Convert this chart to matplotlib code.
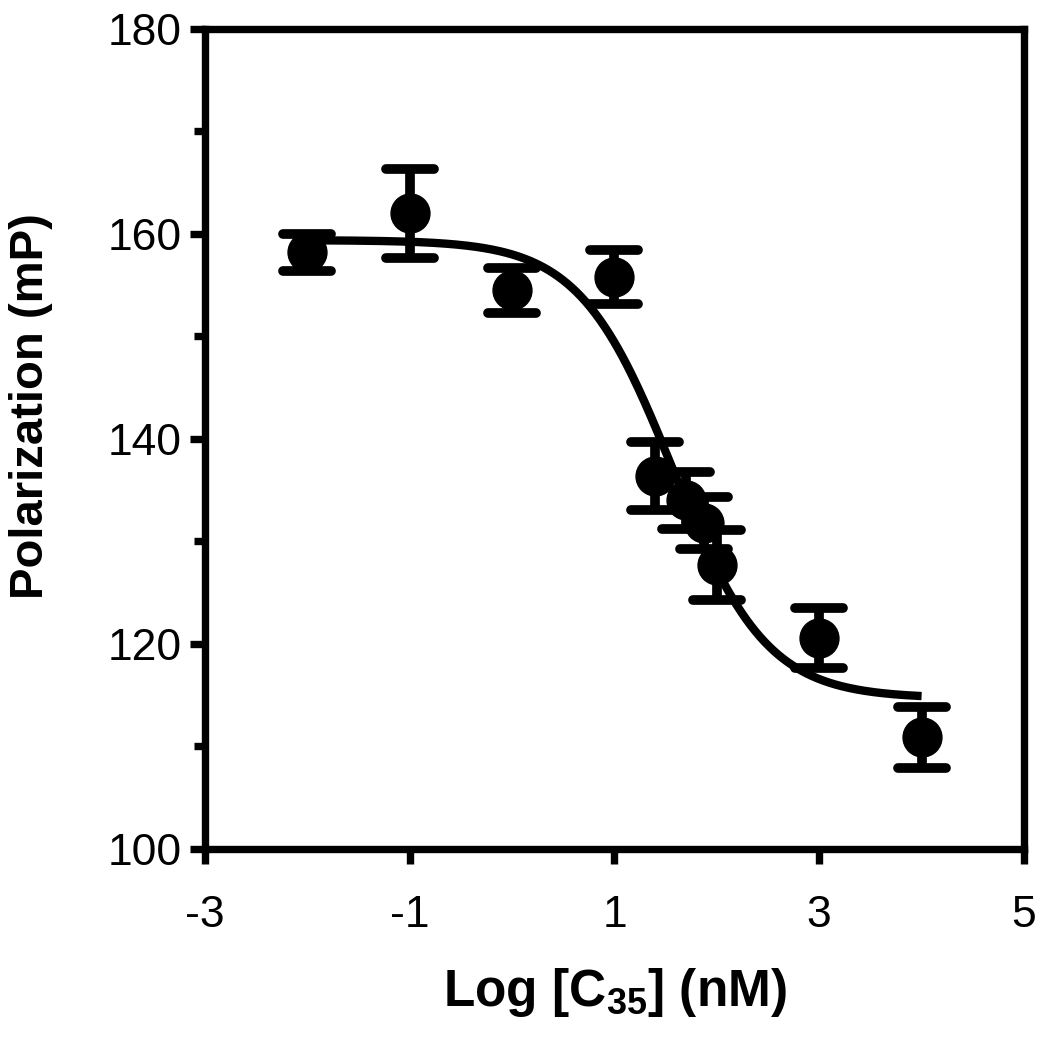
import numpy as np
import matplotlib
matplotlib.use("Agg")
import matplotlib.pyplot as plt
from matplotlib.markers import MarkerStyle

plt.rcParams['font.family'] = ['Liberation Sans', 'DejaVu Sans']
plt.rcParams['mathtext.default'] = 'regular'
plt.rcParams['axes.unicode_minus'] = False

# measured points: log concentration (nM), mean polarization, error
log_conc = [-2, -1, 0, 1, 1.398, 1.699, 1.875, 2.0, 3, 4]
polarization = [158.2, 162.0, 154.5, 155.8, 136.4, 134.0, 131.8, 127.7, 120.6, 110.9]
err = [1.8, 4.3, 2.2, 2.6, 3.3, 2.8, 2.5, 3.4, 2.9, 3.0]

# sigmoidal fit parameters
fit_top = 159.4
fit_bottom = 114.7
fit_logic50 = 1.57
fit_hill = 0.95

fig = plt.figure(figsize=(10.5, 10.38), dpi=100)
ax = fig.add_axes([0.1952, 0.1821, 0.780, 0.790])

xs = np.linspace(min(log_conc), max(log_conc), 400)
ys = fit_bottom + (fit_top - fit_bottom) / (1 + 10 ** ((xs - fit_logic50) * fit_hill))
ax.plot(xs, ys, color='black', lw=6, solid_capstyle='butt', zorder=2)

_, caps, bars = ax.errorbar(log_conc, polarization, yerr=err, fmt='o', color='black',
                            ms=28, elinewidth=7, capsize=17, capthick=7, zorder=3)
for c in caps:
    c.set_marker(MarkerStyle('_', capstyle='round'))

ax.set_xlim(-3, 5)
ax.set_ylim(100, 180)
ax.set_xticks([-3, -1, 1, 3, 5])
ax.set_yticks([100, 120, 140, 160, 180])
ax.set_yticks([110, 130, 150, 170], minor=True)

for s in ax.spines.values():
    s.set_linewidth(5.3)
ax.tick_params(axis='both', which='major', length=11, width=5.3, labelsize=32, pad=6)
ax.tick_params(axis='x', which='major', pad=22)
ax.tick_params(axis='y', which='minor', length=8, width=5.3)

ax.set_xlabel('Log [C$_{35}$] (nM)', fontsize=37, fontweight='bold', labelpad=22)
ax.set_ylabel('Polarization (mP)', fontsize=34, fontweight='bold')
ax.yaxis.set_label_coords(-0.185, 0.54)

fig.savefig('out.png', dpi=100)
